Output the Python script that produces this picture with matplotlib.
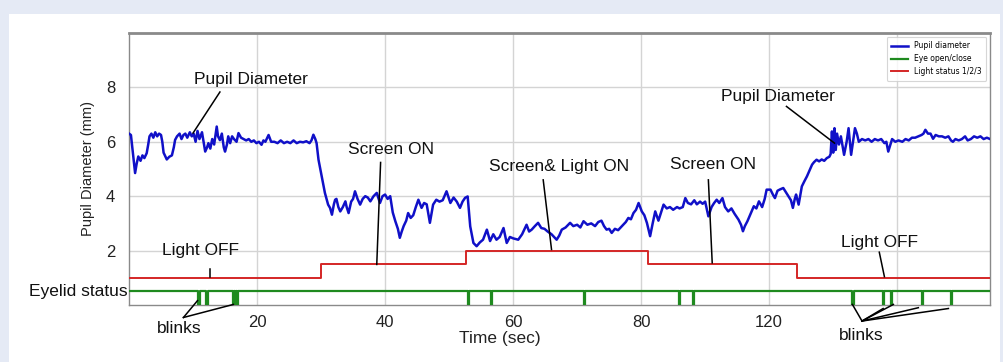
import matplotlib
matplotlib.use("Agg")
import matplotlib.pyplot as plt
import matplotlib.transforms as mtransforms
from matplotlib.patches import Rectangle

# pupil diameter trace (sec, mm)
time_s = [0.0, 0.3, 0.6, 0.95, 1.2, 1.45, 1.8, 2.1, 2.4, 2.76, 3.0, 3.2, 3.5, 3.8, 4.1, 4.4, 4.7, 5.0, 5.2, 5.4,
          5.9, 6.3, 6.7, 7.0, 7.2, 7.5, 7.9, 8.2, 8.5, 8.8, 9.1, 9.5, 9.8, 10.1, 10.4, 10.7, 11.0, 11.4, 11.9, 12.2,
          12.4, 12.7, 13.0, 13.3, 13.7, 13.9, 14.2, 14.5, 14.8, 15.0, 15.3, 15.5, 15.8, 16.1, 16.4, 16.8, 17.1, 17.5, 17.9, 18.3,
          18.7, 19.1, 19.5, 19.9, 20.3, 20.7, 21.0, 21.3, 21.8, 22.2, 22.7, 23.2, 23.7, 24.2, 24.7, 25.2, 25.7, 26.2, 26.7, 27.2,
          27.7, 28.2, 28.5, 28.8, 29.1, 29.3, 29.6, 30.1, 30.6, 31.1, 31.4, 31.7, 32.0, 32.2, 32.4, 32.7, 33.0, 33.4, 33.8, 34.0,
          34.3, 34.7, 35.0, 35.3, 35.7, 36.1, 36.5, 36.9, 37.3, 37.7, 38.2, 38.7, 39.2, 39.6, 40.0, 40.4, 40.8, 41.2, 41.6, 42.0,
          42.3, 42.6, 42.9, 43.3, 43.6, 44.0, 44.4, 44.8, 45.2, 45.7, 46.1, 46.5, 47.0, 47.5, 48.0, 48.5, 49.0, 49.6, 50.2, 50.7,
          51.2, 51.7, 52.1, 52.5, 52.9, 53.3, 53.8, 54.3, 54.8, 55.3, 55.9, 56.4, 56.9, 57.4, 57.9, 58.5, 59.0, 59.5, 60.0, 60.8,
          61.4, 62.1, 62.5, 62.9, 63.4, 63.9, 64.4, 64.9, 65.4, 66.0, 66.8, 67.2, 67.6, 68.2, 68.9, 69.4, 70.0, 70.5, 71.0, 71.6,
          72.2, 72.8, 73.3, 73.8, 74.2, 74.6, 75.0, 75.4, 75.9, 76.4, 76.8, 77.2, 77.6, 78.0, 78.4, 78.8, 79.2, 79.6, 80.1, 80.5,
          80.9, 81.4, 81.8, 82.2, 82.7, 83.1, 83.5, 84.0, 84.5, 85.0, 85.6, 86.0, 86.5, 86.9, 87.3, 87.8, 88.3, 88.7, 89.2, 89.6,
          90.0, 90.5, 91.0, 91.4, 91.8, 92.2, 92.7, 93.1, 93.6, 94.1, 94.6, 95.2, 95.6, 95.9, 96.2, 96.6, 97.1, 97.6, 98.0, 98.4,
          98.9, 99.3, 99.6, 100.2, 100.6, 100.9, 101.3, 101.7, 102.2, 102.6, 103.0, 103.4, 103.7, 104.0, 104.2, 104.6, 105.1, 105.5, 105.9, 106.3,
          106.7, 107.0, 107.4, 107.8, 108.2, 108.6, 109.0, 109.4, 109.6, 109.8, 110.0, 110.2, 110.4, 110.6, 110.9, 111.2, 111.7, 112.1, 112.4, 112.8,
          113.1, 113.4, 113.7, 114.0, 114.5, 115.0, 115.5, 116.0, 116.5, 117.0, 117.5, 118.0, 118.3, 118.6, 119.2, 119.7, 120.2, 120.8, 121.3, 121.8,
          122.3, 122.8, 123.3, 123.8, 124.1, 124.4, 124.8, 125.2, 125.6, 126.0, 126.5, 127.0, 127.5, 128.0, 128.4, 128.7, 129.1, 129.6, 130.1, 130.6,
          131.0, 131.5, 132.0, 132.5, 133.0, 133.5, 134.0, 134.5]
pupil_mm = [6.3, 6.25, 5.6, 4.85, 5.2, 5.46, 5.3, 5.5, 5.4, 5.58, 5.9, 6.2, 6.3, 6.15, 6.35, 6.2, 6.3, 6.25, 6.0, 5.6,
            5.35, 5.45, 5.5, 5.8, 6.07, 6.2, 6.3, 6.1, 6.25, 6.3, 6.15, 6.35, 6.2, 6.3, 6.0, 6.4, 6.1, 6.35, 5.64, 5.8,
            5.95, 5.75, 6.1, 5.9, 6.56, 6.2, 6.06, 6.3, 5.8, 5.64, 5.9, 6.2, 5.95, 6.2, 6.1, 6.0, 6.32, 6.15, 6.1, 6.05,
            6.1, 6.0, 6.05, 5.95, 6.0, 5.89, 6.05, 6.0, 6.25, 6.0, 6.0, 5.95, 6.05, 5.95, 6.0, 5.95, 6.05, 5.95, 6.0, 5.98,
            6.02, 5.95, 6.05, 6.26, 6.1, 5.95, 5.34, 4.73, 4.12, 3.69, 3.57, 3.32, 3.7, 3.87, 3.9, 3.6, 3.44, 3.6, 3.81, 3.6,
            3.38, 3.8, 3.9, 4.18, 3.9, 3.69, 3.9, 4.0, 3.95, 3.81, 4.0, 4.12, 3.75, 4.0, 4.06, 3.9, 4.0, 3.4, 3.08, 2.8,
            2.47, 2.7, 2.9, 3.1, 3.38, 3.2, 3.3, 3.6, 3.87, 3.57, 3.75, 3.7, 3.02, 3.69, 3.87, 3.8, 3.85, 4.18, 3.75, 3.95,
            3.8, 3.57, 3.8, 3.94, 3.99, 2.89, 2.28, 2.16, 2.3, 2.4, 2.77, 2.35, 2.6, 2.4, 2.5, 2.83, 2.28, 2.5, 2.45, 2.4,
            2.6, 2.95, 2.7, 2.77, 2.9, 3.02, 2.83, 2.8, 2.7, 2.6, 2.4, 2.55, 2.77, 2.85, 3.02, 2.9, 2.95, 2.85, 3.08, 2.95,
            3.0, 2.9, 3.05, 3.1, 2.9, 2.77, 2.8, 2.65, 2.8, 2.75, 2.85, 2.95, 3.05, 3.2, 3.15, 3.38, 3.5, 3.75, 3.44, 3.3,
            3.02, 2.53, 3.0, 3.44, 3.1, 3.4, 3.69, 3.55, 3.6, 3.5, 3.6, 3.55, 3.6, 3.93, 3.75, 3.7, 3.85, 3.7, 3.8, 3.72,
            3.8, 3.26, 3.6, 3.75, 3.87, 3.75, 3.93, 3.6, 3.44, 3.55, 3.35, 3.14, 2.95, 2.71, 2.9, 3.08, 3.35, 3.63, 3.55, 3.81,
            3.6, 3.9, 4.24, 4.24, 4.05, 3.93, 4.2, 4.25, 4.3, 4.15, 4.0, 3.85, 3.57, 3.9, 4.06, 3.69, 4.36, 4.55, 4.73, 4.95,
            5.16, 5.25, 5.34, 5.28, 5.35, 5.3, 5.4, 5.45, 5.55, 6.38, 5.6, 6.5, 5.7, 6.3, 5.9, 6.2, 5.52, 6.0, 6.5, 5.52,
            6.0, 6.5, 6.3, 6.0, 6.1, 6.05, 6.1, 6.0, 6.1, 6.05, 6.1, 5.95, 6.0, 5.64, 6.1, 6.0, 6.05, 6.0, 6.1, 6.05,
            6.15, 6.15, 6.2, 6.25, 6.3, 6.44, 6.3, 6.3, 6.11, 6.25, 6.2, 6.2, 6.15, 6.2, 6.05, 6.0, 6.1, 6.05, 6.1, 6.2,
            6.05, 6.1, 6.2, 6.15, 6.2, 6.1, 6.15, 6.1]

# light status (1/2/3 drawn at 1.0/1.5/2.0)
light_t = [0.0, 30.0, 52.6, 81.0, 104.4, 134.5]
light_level = [1.0, 1.5, 2.0, 1.5, 1.0, 1.0]

# blinks: start time and duration (sec)
blink_start = [10.7, 12.1, 16.2, 16.5, 16.8, 53.0, 56.6, 71.1, 85.9, 88.1, 113.0, 117.8, 119.1, 123.8, 128.4]
blink_dur = [0.4, 0.2, 0.15, 0.15, 0.2, 0.15, 0.15, 0.15, 0.2, 0.15, 0.2, 0.15, 0.15, 0.15, 0.15]
eye_open_level = 0.5

x_ticks = [20, 40, 60, 80, 100, 120]
x_ticklabels = ['20', '40', '60', '80', '120', '']
y_ticks = [2, 4, 6, 8]

plt.rcParams['font.family'] = ['Liberation Sans', 'DejaVu Sans']

fig = plt.figure(figsize=(10.04, 3.62), dpi=100)
fig.patch.set_facecolor('#e5eaf5')
fig.patches.append(Rectangle((9 / 1004, 0), 991 / 1004, 348 / 362, transform=fig.transFigure,
                             facecolor='white', edgecolor='none', zorder=-10))
ax = fig.add_axes([0.1285, 0.1575, 0.8576, 0.7514])

# green eyelid trace built from the blink list
eye_x, eye_y = [0.0], [eye_open_level]
for b, d in zip(blink_start, blink_dur):
    eye_x += [b, b, b + d, b + d]
    eye_y += [eye_open_level, 0, 0, eye_open_level]
eye_x.append(light_t[-1])
eye_y.append(eye_open_level)

ax.plot(time_s, pupil_mm, color='#1010c8', lw=1.8, label='Pupil diameter', zorder=3)
ax.plot(eye_x, eye_y, color='#1f8a1f', lw=1.6, label='Eye open/close', zorder=3)
ax.plot(light_t, light_level, color='#d42626', lw=1.4, drawstyle='steps-post',
        label='Light status 1/2/3', zorder=3)

ax.set_xlim(0, 134.5)
ax.set_ylim(0, 10)
ax.set_xticks(x_ticks)
ax.set_xticklabels(x_ticklabels)
ax.set_yticks(y_ticks)
ax.tick_params(axis='both', length=0, labelsize=12, colors='#222222')
ax.tick_params(axis='x', pad=7)
ax.tick_params(axis='y', pad=10)
ax.grid(True, color='#d4d4d4', lw=1)
ax.set_axisbelow(True)
for side in ['left', 'right', 'bottom']:
    ax.spines[side].set_color('#8a8a8a')
    ax.spines[side].set_linewidth(1.0)
ax.spines['top'].set_color('#8a8a8a')
ax.spines['top'].set_linewidth(2.0)

ax.set_ylabel('Pupil Diameter (mm)', fontsize=10.5, color='#222222')
ax.yaxis.set_label_coords(-0.04, 0.5)
ax.set_xlabel('Time (sec)', fontsize=12.5, color='#222222')
ax.xaxis.set_label_coords(0.431, -0.095)

blend = mtransforms.blended_transform_factory(ax.transAxes, ax.transData)
ax.text(-0.002, eye_open_level, 'Eyelid status', transform=blend, ha='right', va='center',
        fontsize=12.5, color='#111111')

leg = ax.legend(loc='upper right', handlelength=2.2, frameon=True,
                borderpad=0.6, labelspacing=0.5, prop={'family': 'DejaVu Sans', 'size': 5.5})
leg.get_frame().set_edgecolor('#cccccc')
leg.get_frame().set_linewidth(0.8)

# callout labels and their leader lines
labels = [('Pupil Diameter', 19.1, 8.3), ('Screen ON', 41.0, 5.71), ('Screen& Light ON', 67.2, 5.08),
          ('Screen ON', 91.3, 5.16), ('Pupil Diameter', 101.4, 7.67), ('Light OFF', 11.2, 2.01),
          ('Light OFF', 117.3, 2.29), ('blinks', 7.9, -0.85), ('blinks', 114.4, -1.14)]
for txt, tx, ty in labels:
    ax.text(tx, ty, txt, ha='center', va='center', fontsize=12.5, color='#111111', clip_on=False)

leaders = [((14.2, 7.83), (10.0, 6.32)), ((39.3, 5.24), (38.7, 1.49)), ((64.7, 4.6), (66.0, 2.04)),
           ((90.5, 4.6), (91.1, 1.55)), ((102.7, 7.3), (110.2, 5.95)), ((12.6, 1.32), (12.6, 1.02)),
           ((117.2, 1.94), (118.0, 1.04)),
           ((8.5, -0.46), (10.7, 0.16)), ((8.5, -0.46), (16.3, 0.02)),
           ((114.5, -0.59), (113.0, 0.02)), ((114.5, -0.59), (117.8, -0.13)), ((114.5, -0.59), (119.4, 0.02)),
           ((114.5, -0.59), (123.3, -0.1)), ((114.5, -0.59), (128.0, -0.13))]
for (x0, y0), (x1, y1) in leaders:
    ax.plot([x0, x1], [y0, y1], color='black', lw=1.1, clip_on=False, zorder=4)

fig.savefig('out.png', dpi=100, facecolor=fig.get_facecolor())
